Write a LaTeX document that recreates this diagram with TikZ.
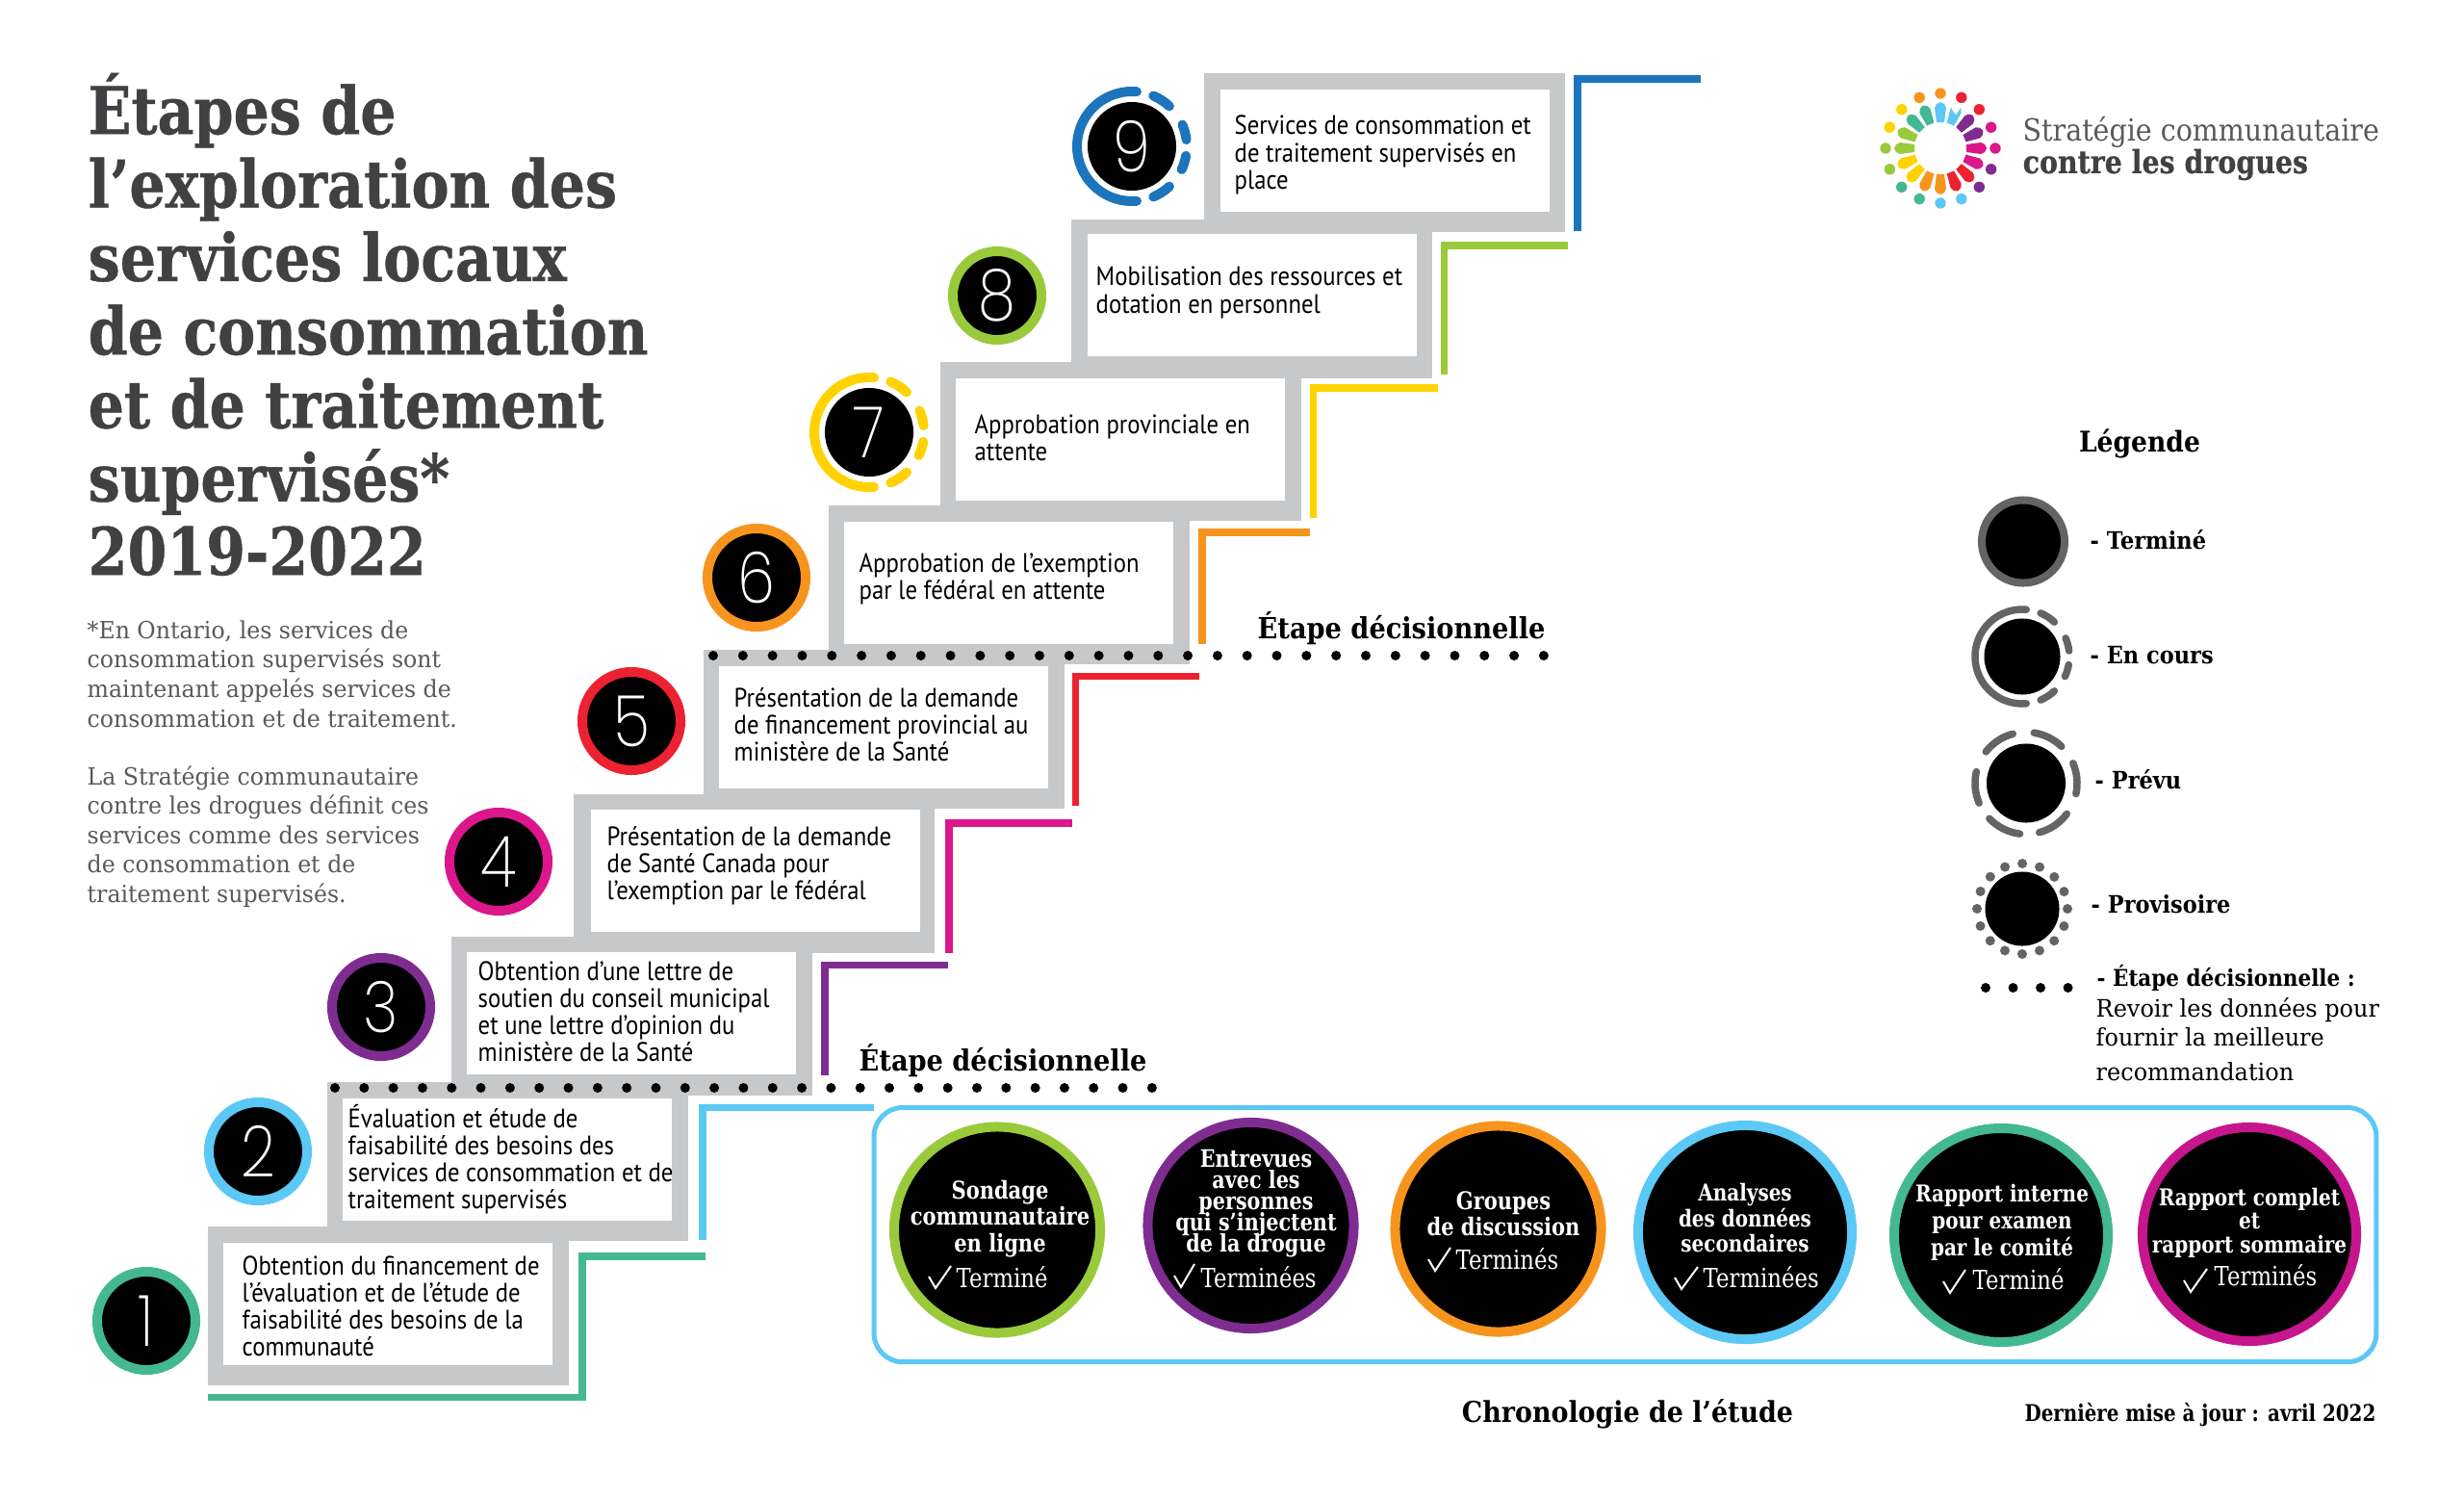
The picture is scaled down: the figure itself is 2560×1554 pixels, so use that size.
\documentclass[tikz,border=0pt]{standalone}
\usepackage{xcolor}
\usepackage{fontspec}
\usepackage{tikz}
\usetikzlibrary{calc}
\usetikzlibrary{backgrounds}
\newfontfamily\stepfont[FakeStretch=0.89]{PT Sans}
\newfontfamily\slabfont[FakeStretch=0.9]{DejaVu Serif}
\newfontfamily\notefont[FakeStretch=0.96]{DejaVu Serif}
\newfontfamily\titlefont[FakeStretch=0.86, FakeBold=0.6, UprightFont=* Bold]{DejaVu Serif}
\newfontfamily\narrowslab[FakeStretch=0.83]{DejaVu Serif}
\newfontfamily\thinfont[FakeStretch=0.85, UprightFont=* ExtraLight]{Poppins}
\definecolor{stepgrey}{HTML}{C7C8CA}
\definecolor{inkgrey}{HTML}{414042}
\definecolor{textgrey}{HTML}{58595B}
\definecolor{keygrey}{HTML}{636466}
\definecolor{cteal}{HTML}{43B893}
\definecolor{csky}{HTML}{5BC8F5}
\definecolor{cpurple}{HTML}{7F2C91}
\definecolor{cmagenta}{HTML}{DC168B}
\definecolor{cplum}{HTML}{C6168D}
\definecolor{cred}{HTML}{ED2230}
\definecolor{corange}{HTML}{F7941E}
\definecolor{cyellow}{HTML}{FFD200}
\definecolor{clime}{HTML}{9ACA3C}
\definecolor{cblue}{HTML}{1C75BC}
\newcommand{\tightlines}{\lineskiplimit -20pt\relax}
\tikzset{
  greybox/.style = {fill = stepgrey, anchor = north west, inner sep = 0, outer sep = 0, minimum width = 3.75cm, minimum height = 1.65cm},
  whitebox/.style = {fill = white, anchor = north west, inner sep = 0, outer sep = 0, minimum width = 3.42cm, minimum height = 1.27cm},
  steptext/.style = {anchor = west, align = left, inner sep = 0, font = \stepfont\fontsize{7.9}{8}\selectfont},
  numdisc/.style = {circle, fill = black, text = white, inner sep = 0, outer sep = 0, minimum size = 0.92cm, font = \thinfont\fontsize{21}{21}\selectfont},
  numring/.style = {numdisc, line width = 0.1cm, minimum size = 1.02cm},
  stair/.style = {line width = 0.075cm, miter limit = 10},
  gauge/.style = {line width = 0.1cm, line cap = round},
  keygauge/.style = {line width = 0.075cm, line cap = round, keygrey},
  decidedots/.style = {line width = 0.1cm, line cap = round, dash pattern = on 0pt off 0.305cm},
  decide/.style = {inner sep = 0, font = \slabfont\bfseries\fontsize{8.6}{9}\selectfont},
  milestone/.style = {circle, fill = black, inner sep = 0, outer sep = 0, line width = 0.1cm, minimum size = 2.14cm},
  bigstone/.style = {milestone, minimum size = 2.22cm},
  stonetext/.style = {text = white, align = center, inner sep = 0, font = \tightlines\narrowslab\bfseries\fontsize{7.2}{7.8}\selectfont},
  bigstonetext/.style = {stonetext, font = \tightlines\narrowslab\bfseries\fontsize{6.85}{7.6}\selectfont},
  donetext/.style = {text = white, anchor = west, inner sep = 0, font = \narrowslab\fontsize{7.8}{8}\selectfont},
  tick/.style = {white, line width = 0.02cm},
  keydisc/.style = {circle, fill = black, inner sep = 0, outer sep = 0},
  keytext/.style = {anchor = west, inner sep = 0, font = \slabfont\bfseries\fontsize{7.1}{8}\selectfont},
}
% solid arc on the left, four short pieces on the right
\newcommand{\rungauge}[4]{
  \draw [#3, #4, shift = {(#1)}] (85:#2) arc (85:275:#2);
  \draw [#3, #4, shift = {(#1)}] (-67:#2) arc (-67:-47:#2);
  \draw [#3, #4, shift = {(#1)}] (-23:#2) arc (-23:-7:#2);
  \draw [#3, #4, shift = {(#1)}] (10:#2) arc (10:25:#2);
  \draw [#3, #4, shift = {(#1)}] (47:#2) arc (47:67:#2);
}
\begin{document}
\begin{tikzpicture}[x = 0.01cm, y = -0.01cm]
\useasboundingbox (0, 0) rectangle (2560, 1554);
\fill [white] (0, 0) rectangle (2560, 1554);

% title and notes
\node [anchor = west, align = left, inner sep = 0, text = inkgrey, font = \titlefont\fontsize{19.4}{21.7}\selectfont] (title) at (91, 337) {Étapes de\\l’exploration des\\services locaux\\de consommation\\et de traitement\\supervisés*\\2019-2022};
\node [anchor = west, align = left, inner sep = 0, text = textgrey, font = \notefont\fontsize{7}{8.7}\selectfont] (note1) at (90, 700) {*En Ontario, les services de\\consommation supervisés sont\\maintenant appelés services de\\consommation et de traitement.};
\node [anchor = west, align = left, inner sep = 0, text = textgrey, font = \notefont\fontsize{7}{8.7}\selectfont] (note2) at (90, 869) {La Stratégie communautaire\\contre les drogues définit ces\\services comme des services\\de consommation et de\\traitement supervisés.};

% grey steps
\node [greybox] (g1) at (216, 1274) {};
\node [greybox] (g2) at (340, 1124) {};
\node [greybox] (g3) at (469, 973) {};
\node [greybox] (g4) at (596, 825) {};
\node [greybox] (g5) at (731, 675) {};
\node [greybox] (g6) at (861, 525) {};
\node [greybox] (g7) at (977, 376) {};
\node [greybox] (g8) at (1113, 228) {};
\node [greybox] (g9) at (1251, 76) {};
\node [whitebox] (b1) at (232, 1291) {};
\node [whitebox] (b2) at (356, 1141) {};
\node [whitebox] (b3) at (485, 989) {};
\node [whitebox] (b4) at (614, 841) {};
\node [whitebox] (b5) at (747, 692) {};
\node [whitebox] (b6) at (877, 542) {};
\node [whitebox] (b7) at (993, 393) {};
\node [whitebox] (b8) at (1130, 243) {};
\node [whitebox] (b9) at (1268, 93) {};

\node [steptext] (t1) at (251, 1357) {Obtention du financement de\\l’évaluation et de l’étude de\\faisabilité des besoins de la\\communauté};
\node [steptext] (t2) at (361, 1204) {Évaluation et étude de\\faisabilité des besoins des\\services de consommation et de\\traitement supervisés};
\node [steptext] (t3) at (496, 1051) {Obtention d’une lettre de\\soutien du conseil municipal\\et une lettre d’opinion du\\ministère de la Santé};
\node [steptext] (t4) at (630, 899) {Présentation de la demande\\de Santé Canada pour\\l’exemption par le fédéral};
\node [steptext] (t5) at (762, 753) {Présentation de la demande\\de financement provincial au\\ministère de la Santé};
\node [steptext] (t6) at (892, 601) {Approbation de l’exemption\\par le fédéral en attente};
\node [steptext] (t7) at (1012, 455) {Approbation provinciale en\\attente};
\node [steptext] (t8) at (1138, 304) {Mobilisation des ressources et\\dotation en personnel};
\node [steptext] (t9) at (1282, 161) {Services de consommation et\\de traitement supervisés en\\place};

% numbered circles
\node [numring, draw = cteal] (n1) at (152, 1372) {1};
\node [numring, draw = csky] (n2) at (268, 1196) {2};
\node [numring, draw = cpurple] (n3) at (396, 1046) {3};
\node [numring, draw = cmagenta] (n4) at (518, 895) {4};
\node [numring, draw = cred] (n5) at (656, 749) {5};
\node [numring, draw = corange] (n6) at (786, 600) {6};
\node [numdisc] (n7) at (903, 449) {7};
\rungauge{903, 449}{57}{gauge}{cyellow}
\node [numring, draw = clime, minimum size = 0.92cm] (n8) at (1036, 307) {8};
\node [numdisc] (n9) at (1176, 152) {9};
\rungauge{1176, 152}{57}{gauge}{cblue}

% stairs
\draw [stair, cteal] (216, 1451.5) -- (605, 1451.5) -- (605, 1305) -- (733, 1305);
\draw [stair, cpurple] (857, 1117) |- (985, 1002.5);
\draw [stair, cmagenta] (986, 990) |- (1114, 855);
\draw [stair, cred] (1117.5, 837) |- (1246, 702.5);
\draw [stair, corange] (1249, 669) |- (1361, 553);
\draw [stair, cyellow] (1364.5, 538) |- (1494, 403);
\draw [stair, clime] (1500.5, 389) |- (1629, 255);
\draw [stair, cblue] (1639, 240) |- (1767, 82);

% decision dots
\draw [decidedots, dash pattern = on 0pt off 0.303cm] (348, 1130) -- (1197, 1130);
\draw [decidedots, dash pattern = on 0pt off 0.308cm] (741, 681) -- (1604, 681);
\node [decide, anchor = west] (d1) at (892, 1102) {Étape décisionnelle};
\node [decide, anchor = west] (d2) at (1306, 653) {Étape décisionnelle};

% study timeline
\node [draw = csky, line width = 0.05cm, rounded corners = 0.3cm, inner sep = 0, outer sep = 0, anchor = north west, minimum width = 15.6cm, minimum height = 2.64cm] (frame) at (908, 1150.5) {};
\draw [stair, csky] (730, 1288) |- (frame.north west);
\coordinate (axis) at (0, 1285);
\node [milestone, draw = clime] (m1) at (1036, 1277.5) {};
\node [milestone, draw = cpurple] (m2) at (1299.5, 1273) {};
\node [milestone, draw = corange] (m3) at (1556.5, 1276.5) {};
\node [bigstone, draw = csky] (m4) at (1813, 1280) {};
\node [bigstone, draw = cteal] (m5) at (2079, 1283) {};
\node [bigstone, draw = cplum] (m6) at (2337, 1282) {};
\begin{scope}[on background layer]
\draw [line width = 0.13cm, stepgrey] (m1 |- axis) -- (m2 |- axis);
\draw [line width = 0.13cm, stepgrey] (m2 |- axis) -- (m3 |- axis);
\draw [line width = 0.13cm, stepgrey] (m3 |- axis) -- (m4 |- axis);
\draw [line width = 0.13cm, stepgrey] (m4 |- axis) -- (m5 |- axis);
\draw [line width = 0.13cm, stepgrey] (m5 |- axis) -- (m6 |- axis);
\end{scope}
\node [stonetext] (s1) at (1039, 1266) {Sondage\\communautaire\\en ligne};
\node [stonetext, font = \tightlines\narrowslab\bfseries\fontsize{7.1}{6.3}\selectfont] (s2) at (1305, 1250) {Entrevues\\avec les\\personnes\\qui s’injectent\\de la drogue};
\node [stonetext] (s3) at (1562, 1261) {Groupes\\de discussion};
\node [bigstonetext] (s4) at (1813, 1265) {Analyses\\des données\\secondaires};
\node [bigstonetext, font = \tightlines\narrowslab\bfseries\fontsize{6.85}{8}\selectfont] (s5) at (2080, 1270) {Rapport interne\\pour examen\\par le comité};
\node [bigstonetext, font = \tightlines\narrowslab\bfseries\fontsize{6.85}{7}\selectfont] (s6) at (2337, 1270) {Rapport complet\\et\\rapport sommaire};
\node [donetext] (e1) at (993, 1327) {Terminé};
\node [donetext] (e2) at (1247, 1327) {Terminées};
\node [donetext] (e3) at (1512, 1308) {Terminés};
\node [donetext] (e4) at (1769, 1327) {Terminées};
\node [donetext] (e5) at (2049, 1329) {Terminé};
\node [donetext] (e6) at (2300, 1325) {Terminés};
\draw [tick] (965, 1326) -- (972, 1338) -- (988, 1315);
\draw [tick] (1220, 1325) -- (1227, 1337) -- (1241, 1313);
\draw [tick] (1484, 1308) -- (1491, 1320) -- (1507, 1296);
\draw [tick] (1740, 1327) -- (1747, 1339) -- (1764, 1316);
\draw [tick] (2019, 1331) -- (2026, 1343) -- (2042, 1319);
\draw [tick] (2269, 1330) -- (2276, 1342) -- (2293, 1318);
\node [decide, font = \slabfont\bfseries\fontsize{8.5}{10}\selectfont] (chrono) at (1691, 1469) {Chronologie de l’étude};
\node [decide, anchor = east, font = \narrowslab\bfseries\fontsize{6.8}{8}\selectfont] (update) at (2469, 1470) {Dernière mise à jour : avril 2022};

% legend
\node [inner sep = 0, font = \slabfont\bfseries\fontsize{8.4}{9}\selectfont] (keyhead) at (2223, 461) {Légende};
\node [keydisc, draw = keygrey, line width = 0.08cm, minimum size = 0.86cm] (k1) at (2102, 562.5) {};
\node [keydisc, minimum size = 0.79cm] (k2) at (2101, 682) {};
\rungauge{2101, 682}{49}{keygauge}{}
\node [keydisc, minimum size = 0.82cm] (k3) at (2105, 813.5) {};
\draw [keygauge, shift = {(2105, 813.5)}] (-81:53) arc (-81:-46:53);
\draw [keygauge, shift = {(2105, 813.5)}] (-23:53) arc (-23:12:53);
\draw [keygauge, shift = {(2105, 813.5)}] (37:53) arc (37:75:53);
\draw [keygauge, shift = {(2105, 813.5)}] (97:53) arc (97:136:53);
\draw [keygauge, shift = {(2105, 813.5)}] (157:53) arc (157:193:53);
\draw [keygauge, shift = {(2105, 813.5)}] (218:53) arc (218:255:53);
\node [keydisc, minimum size = 0.77cm] (k4) at (2101, 944) {};
\draw [line width = 0.1cm, line cap = round, dash pattern = on 0pt off 0.1845cm, keygrey] (2101, 944) ++(47, 0) arc (0:360:47);
\draw [decidedots, dash pattern = on 0pt off 0.285cm] (2063, 1026) -- (2149, 1026);
\node [keytext] (l1) at (2171, 561) {- Terminé};
\node [keytext] (l2) at (2171, 681) {- En cours};
\node [keytext] (l3) at (2176, 810) {- Prévu};
\node [keytext] (l4) at (2172, 939) {- Provisoire};
\node [keytext, font = \slabfont\bfseries\fontsize{6.8}{8}\selectfont] (l5) at (2178, 1016) {- Étape décisionnelle :};
\node [keytext, anchor = north west, align = left, font = \notefont\fontsize{7.1}{8.6}\selectfont] (l6) at (2177, 1036) {Revoir les données pour\\fournir la meilleure\\[1.5pt]recommandation};

% logo
\foreach \a/\c in {-90/corange, -67.5/cred, -45/cred, -22.5/cmagenta, 0/cmagenta, 22.5/cpurple, 45/cpurple, 67.5/csky, 90/csky, 112.5/cteal, 135/cteal, 157.5/clime, 180/clime, 202.5/cyellow, 225/cyellow, 247.5/corange} {
  \fill [\c, shift = {(2016, 154)}] (\a:57) circle (5.7);
  \fill [\c, shift = {(2016, 154)}, rotate = \a] (27, -4) -- (42, -6) -- (46, -4) -- (48, 0) -- (46, 4) -- (42, 6) -- (27, 4) -- cycle;
}
\fill [white] (2032, 119) .. controls (2026, 113) and (2026, 107) .. (2029, 107) .. controls (2031, 107) and (2032, 108) .. (2032, 110) .. controls (2032, 108) and (2033, 107) .. (2035, 107) .. controls (2038, 107) and (2038, 113) .. (2032, 119) -- cycle;
\node [anchor = west, inner sep = 0, text = textgrey, font = \slabfont\fontsize{9}{9}\selectfont] (logo1) at (2101, 137) {Stratégie communautaire};
\node [anchor = west, inner sep = 0, text = inkgrey, font = \titlefont\fontsize{9.4}{9}\selectfont] (logo2) at (2101, 171) {contre les drogues};
\end{tikzpicture}
\end{document}
